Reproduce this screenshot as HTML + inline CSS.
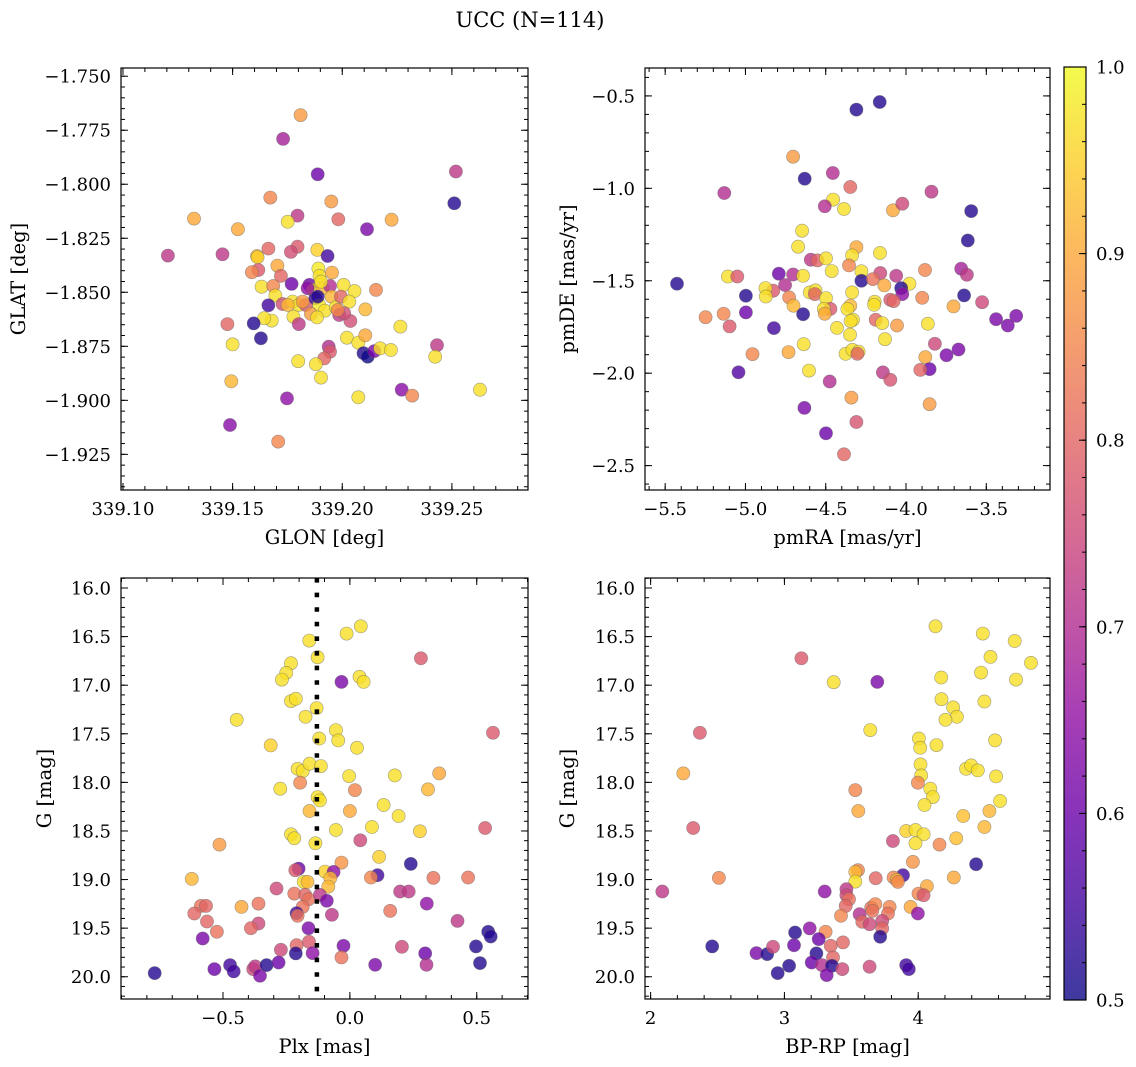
<!DOCTYPE html>
<html><head><meta charset="utf-8"><title>UCC (N=114)</title>
<style>
html,body{margin:0;padding:0;background:#fff;}
svg{display:block;font-family:"DejaVu Serif","Liberation Serif",serif;}
</style></head>
<body>
<svg id="fig" width="1136" height="1067" viewBox="0 0 1136 1067" xmlns="http://www.w3.org/2000/svg">
<defs>
<linearGradient id="plasma" x1="0" y1="1" x2="0" y2="0">
<stop offset="0" stop-color="#0d0887"/><stop offset="0.1" stop-color="#41049d"/><stop offset="0.2" stop-color="#6a00a8"/><stop offset="0.3" stop-color="#8f0da4"/><stop offset="0.4" stop-color="#b12a90"/><stop offset="0.5" stop-color="#cc4778"/><stop offset="0.6" stop-color="#e16462"/><stop offset="0.7" stop-color="#f2844b"/><stop offset="0.8" stop-color="#fca636"/><stop offset="0.9" stop-color="#fcce25"/><stop offset="1" stop-color="#f0f921"/>
</linearGradient>
</defs>
<text x="530" y="27" font-size="21" text-anchor="middle">UCC (N=114)</text>
</svg>
<script>
// ---- Panel 1: GLON / GLAT ----
const lon1 = [339.1888,339.2518,339.2511,339.1672,339.1950,339.1324,339.1796,339.1751,339.1982,339.2225,339.2113,339.1524,339.1205,339.1454,339.1663,339.1796,339.1766,339.1886,339.1933,339.1611,339.1614,339.1617,339.1588,339.1704,339.1720,339.1891,339.1896,339.1953,339.1769,339.1632,339.1685,339.1850,339.1865,339.1910,339.1944,339.2006,339.2056,339.2154,339.1695,339.1663,339.1728,339.1774,339.1801,339.1834,339.1877,339.1895,339.1921,339.1951,339.1971,339.1994,339.2032,339.2105,339.1986,339.2037,339.2009,339.1857,339.1885,339.1777,339.1802,339.1678,339.1644,339.1596,339.1629,339.1476,339.1500,339.2021,339.2073,339.2105,339.2265,339.1938,339.1944,339.1918,339.2097,339.2116,339.2146,339.2173,339.2222,339.2432,339.2424,339.1799,339.1880,339.1903,339.1494,339.1748,339.2073,339.2271,339.2319,339.2628,339.1488,339.1708,339.181,339.173,339.1888,339.1842,339.1751,339.1903,339.1979,339.1819];
const lat1 = [-1.7954,-1.7941,-1.8088,-1.8062,-1.8080,-1.8159,-1.8145,-1.8174,-1.8162,-1.8164,-1.8208,-1.8208,-1.8330,-1.8324,-1.8298,-1.8289,-1.8313,-1.8304,-1.8332,-1.8332,-1.8338,-1.8397,-1.8407,-1.8377,-1.8424,-1.8390,-1.8424,-1.8409,-1.8461,-1.8474,-1.8471,-1.8466,-1.8489,-1.8481,-1.8471,-1.8466,-1.8494,-1.8489,-1.8515,-1.8560,-1.8554,-1.8543,-1.8559,-1.8559,-1.8528,-1.8559,-1.8585,-1.8520,-1.8569,-1.8520,-1.8543,-1.8579,-1.8605,-1.8633,-1.8597,-1.8600,-1.8616,-1.8613,-1.8647,-1.8631,-1.8620,-1.8644,-1.8713,-1.8647,-1.8741,-1.8710,-1.8733,-1.8699,-1.8659,-1.8752,-1.8775,-1.8806,-1.8782,-1.8798,-1.8772,-1.8759,-1.8767,-1.8745,-1.8798,-1.8819,-1.8833,-1.8895,-1.8912,-1.8991,-1.8986,-1.8951,-1.8978,-1.8951,-1.9114,-1.9191,-1.768,-1.779,-1.8520,-1.8481,-1.8559,-1.8451,-1.8582,-1.8543];
const prob1 = [0.6,0.72,0.52,0.85,0.88,0.9,0.72,0.97,0.8,0.9,0.62,0.9,0.72,0.72,0.8,0.78,0.76,0.95,0.55,0.92,0.95,0.78,0.85,0.9,0.8,0.98,0.97,0.9,0.6,0.97,0.85,0.6,0.97,0.92,0.7,0.97,0.97,0.85,0.97,0.55,0.76,0.97,0.97,0.78,0.55,0.98,0.97,0.92,0.97,0.8,0.97,0.92,0.72,0.76,0.76,0.88,0.97,0.97,0.72,0.97,0.97,0.52,0.52,0.8,0.97,0.97,0.97,0.9,0.97,0.7,0.78,0.8,0.52,0.5,0.62,0.97,0.97,0.72,0.97,0.97,0.97,0.97,0.92,0.65,0.97,0.64,0.85,0.97,0.64,0.85,0.88,0.68,0.52,0.65,0.92,0.97,0.85,0.88];
const lonTicks = [339.10,339.15,339.20,339.25];
const latTicks = [-1.750,-1.775,-1.800,-1.825,-1.850,-1.875,-1.900,-1.925];

// ---- Panel 2: pmRA / pmDE ----
const pmra2 = [-4.309,-4.164,-4.703,-4.631,-4.456,-5.132,-4.347,-4.454,-4.506,-4.386,-4.081,-4.023,-3.841,-3.594,-3.615,-4.647,-4.672,-4.309,-4.336,-4.162,-4.593,-4.552,-4.498,-4.463,-4.355,-4.278,-4.278,-4.160,-4.206,-4.135,-4.061,-3.882,-3.656,-3.621,-3.978,-4.030,-4.023,-4.098,-4.077,-3.899,-3.638,-3.526,-3.704,-3.439,-3.314,-3.366,-5.426,-5.109,-5.051,-4.997,-4.997,-5.248,-5.136,-5.099,-4.792,-4.703,-4.753,-4.827,-4.875,-4.873,-4.641,-4.728,-4.701,-4.599,-4.564,-4.568,-4.498,-4.471,-4.512,-4.506,-4.641,-4.823,-4.336,-4.347,-4.365,-4.330,-4.345,-4.430,-4.349,-4.195,-4.199,-4.189,-4.148,-4.056,-3.864,-4.131,-3.820,-3.748,-3.673,-3.880,-3.853,-3.911,-4.637,-4.732,-4.956,-5.043,-4.376,-4.334,-4.295,-4.303,-4.604,-4.144,-4.098,-4.475,-4.340,-3.853,-4.633,-4.309,-4.498,-4.386];
const pmde2 = [-0.574,-0.533,-0.829,-0.948,-0.917,-1.025,-0.993,-1.061,-1.097,-1.112,-1.119,-1.083,-1.018,-1.123,-1.282,-1.229,-1.316,-1.318,-1.363,-1.350,-1.386,-1.390,-1.379,-1.448,-1.417,-1.449,-1.500,-1.458,-1.491,-1.525,-1.473,-1.442,-1.435,-1.468,-1.516,-1.540,-1.572,-1.603,-1.610,-1.592,-1.579,-1.616,-1.639,-1.708,-1.690,-1.742,-1.516,-1.477,-1.477,-1.581,-1.671,-1.697,-1.679,-1.747,-1.462,-1.466,-1.523,-1.554,-1.540,-1.585,-1.473,-1.590,-1.635,-1.563,-1.552,-1.572,-1.594,-1.652,-1.652,-1.679,-1.681,-1.756,-1.563,-1.635,-1.653,-1.711,-1.718,-1.755,-1.792,-1.614,-1.630,-1.711,-1.729,-1.742,-1.733,-1.816,-1.841,-1.903,-1.872,-1.913,-1.978,-1.982,-1.843,-1.886,-1.897,-1.995,-1.895,-1.874,-1.884,-1.895,-1.986,-1.996,-2.036,-2.045,-2.132,-2.168,-2.188,-2.264,-2.325,-2.439];
const prob2 = [0.52,0.52,0.88,0.52,0.7,0.7,0.8,0.97,0.7,0.97,0.9,0.75,0.72,0.52,0.52,0.97,0.97,0.9,0.97,0.97,0.72,0.8,0.97,0.97,0.85,0.97,0.52,0.75,0.82,0.9,0.72,0.85,0.68,0.72,0.97,0.52,0.65,0.78,0.8,0.85,0.52,0.75,0.9,0.62,0.62,0.62,0.52,0.97,0.78,0.52,0.6,0.85,0.85,0.78,0.6,0.7,0.7,0.78,0.97,0.97,0.97,0.85,0.92,0.97,0.97,0.8,0.97,0.78,0.97,0.9,0.52,0.55,0.97,0.92,0.97,0.97,0.97,0.97,0.97,0.97,0.97,0.8,0.97,0.88,0.97,0.97,0.75,0.62,0.62,0.9,0.6,0.8,0.97,0.9,0.85,0.57,0.97,0.97,0.97,0.8,0.97,0.72,0.77,0.7,0.88,0.88,0.62,0.77,0.6,0.8];
const pmraTicks = [-5.5,-5.0,-4.5,-4.0,-3.5];
const pmdeTicks = [-0.5,-1.0,-1.5,-2.0,-2.5];

// ---- Panel 3: Plx / G ----
const plx3 = [0.043,-0.013,-0.160,-0.127,-0.232,-0.251,-0.268,0.280,-0.033,0.038,0.054,-0.232,-0.213,-0.446,-0.175,-0.131,-0.055,-0.046,-0.121,0.028,0.564,-0.312,-0.206,-0.186,-0.159,-0.114,-0.196,-0.003,0.177,0.352,-0.274,0.020,0.308,-0.127,-0.118,-0.159,0.000,0.133,0.192,-0.055,0.087,0.276,0.533,-0.232,-0.219,-0.136,0.041,-0.514,0.115,-0.033,0.240,-0.202,-0.215,-0.098,-0.064,-0.077,-0.085,-0.182,-0.167,0.109,0.083,0.329,0.466,-0.623,-0.289,-0.219,-0.176,-0.163,-0.118,-0.091,0.198,0.232,0.303,0.159,0.424,-0.587,-0.567,-0.613,-0.563,-0.524,-0.427,-0.360,-0.360,-0.390,-0.580,-0.186,-0.210,-0.206,-0.071,-0.163,-0.161,-0.210,-0.213,-0.272,-0.147,-0.025,-0.033,0.100,0.205,0.297,0.302,0.497,0.513,0.545,0.555,-0.769,-0.534,-0.472,-0.458,-0.381,-0.373,-0.354,-0.328,-0.281];
const gmag3 = [16.394,16.469,16.541,16.712,16.774,16.873,16.942,16.723,16.966,16.914,16.966,17.164,17.140,17.356,17.325,17.236,17.462,17.568,17.548,17.644,17.490,17.620,17.860,17.884,17.808,17.832,18.003,17.935,17.928,17.908,18.065,18.079,18.072,18.151,18.185,18.295,18.295,18.233,18.346,18.490,18.459,18.503,18.469,18.534,18.575,18.627,18.596,18.640,18.767,18.825,18.839,18.887,18.904,18.918,18.921,18.986,19.072,19.024,19.024,18.955,18.979,18.983,18.979,18.993,19.092,19.144,19.158,19.202,19.158,19.219,19.123,19.123,19.247,19.322,19.425,19.271,19.271,19.349,19.432,19.538,19.281,19.247,19.452,19.500,19.606,19.281,19.346,19.373,19.363,19.500,19.640,19.675,19.760,19.723,19.757,19.682,19.801,19.877,19.692,19.760,19.877,19.688,19.860,19.538,19.586,19.962,19.921,19.880,19.945,19.921,19.894,19.990,19.880,19.853];
const prob3 = [0.97,0.97,0.97,0.97,0.97,0.97,0.97,0.78,0.62,0.97,0.97,0.97,0.97,0.97,0.97,0.97,0.97,0.97,0.97,0.97,0.78,0.95,0.97,0.97,0.97,0.97,0.85,0.97,0.97,0.9,0.97,0.85,0.92,0.97,0.97,0.92,0.9,0.97,0.97,0.97,0.97,0.95,0.78,0.97,0.97,0.97,0.75,0.88,0.95,0.87,0.52,0.6,0.78,0.95,0.65,0.92,0.92,0.97,0.92,0.55,0.85,0.82,0.82,0.92,0.75,0.82,0.8,0.82,0.72,0.62,0.72,0.72,0.65,0.82,0.72,0.82,0.8,0.8,0.8,0.82,0.9,0.82,0.75,0.8,0.62,0.82,0.55,0.82,0.72,0.62,0.78,0.8,0.52,0.75,0.65,0.62,0.82,0.62,0.75,0.6,0.7,0.52,0.52,0.52,0.52,0.52,0.6,0.55,0.55,0.75,0.72,0.62,0.52,0.6];
const plxTicks = [-0.5,0.0,0.5];
const plxMedian = [-0.13];

// ---- Panel 4: BP-RP / G ----
const bprp4 = [4.129,4.483,4.721,4.540,4.843,4.470,4.731,4.172,3.127,3.368,3.694,4.174,4.261,4.289,4.204,4.495,2.368,3.642,4.005,4.015,4.137,4.575,4.017,4.022,4.358,4.396,4.445,4.582,2.244,3.998,4.090,4.109,4.047,3.530,3.552,4.612,4.336,4.532,4.495,2.318,3.910,3.980,4.040,3.980,4.284,4.159,3.811,3.960,4.433,3.550,3.530,3.530,3.682,3.886,3.816,3.841,3.848,4.266,4.065,2.510,2.087,3.301,3.463,3.463,3.483,3.458,4.002,4.040,3.943,3.998,3.423,3.562,3.582,3.637,3.649,3.679,3.657,3.786,3.774,3.731,3.731,3.716,3.308,3.189,3.256,3.080,3.072,3.346,3.438,3.363,3.239,2.460,2.791,2.871,2.915,3.035,2.950,3.204,3.281,3.356,3.316,3.433,3.637,3.910,3.930];
const gmag4 = [16.394,16.469,16.545,16.709,16.771,16.870,16.942,16.921,16.723,16.969,16.966,17.144,17.229,17.325,17.356,17.168,17.490,17.462,17.548,17.644,17.616,17.568,17.815,17.928,17.860,17.825,17.877,17.938,17.908,18.003,18.065,18.151,18.233,18.079,18.295,18.192,18.346,18.295,18.459,18.469,18.500,18.490,18.534,18.627,18.575,18.640,18.603,18.818,18.842,18.904,18.921,19.021,18.986,18.955,18.979,19.003,19.024,18.979,19.068,18.983,19.123,19.123,19.099,19.161,19.202,19.271,19.144,19.161,19.281,19.349,19.373,19.356,19.435,19.459,19.288,19.253,19.322,19.281,19.349,19.425,19.503,19.589,19.538,19.503,19.613,19.545,19.675,19.682,19.647,19.801,19.760,19.688,19.757,19.767,19.692,19.887,19.962,19.853,19.880,19.887,19.983,19.921,19.897,19.880,19.921];
const prob4 = [0.97,0.97,0.97,0.97,0.97,0.97,0.97,0.97,0.78,0.97,0.62,0.97,0.97,0.97,0.97,0.97,0.78,0.97,0.97,0.97,0.97,0.97,0.97,0.97,0.97,0.97,0.97,0.97,0.9,0.85,0.97,0.97,0.97,0.85,0.9,0.97,0.93,0.92,0.92,0.78,0.95,0.97,0.97,0.97,0.93,0.85,0.75,0.87,0.52,0.85,0.92,0.97,0.8,0.55,0.85,0.92,0.85,0.9,0.9,0.85,0.72,0.65,0.72,0.75,0.82,0.8,0.85,0.78,0.9,0.65,0.85,0.7,0.8,0.75,0.82,0.85,0.82,0.85,0.82,0.75,0.8,0.52,0.85,0.65,0.6,0.52,0.6,0.8,0.8,0.8,0.52,0.52,0.62,0.52,0.75,0.52,0.52,0.6,0.7,0.52,0.62,0.75,0.75,0.55,0.55];
const bprpTicks = [2,3,4];
const gTicks = [16.0,16.5,17.0,17.5,18.0,18.5,19.0,19.5,20.0];
const cbarTicks = [0.5,0.6,0.7,0.8,0.9,1.0];

const NS = "http://www.w3.org/2000/svg";
const svg = document.getElementById("fig");
const PL = [[0,13,8,135],[0.1,65,4,157],[0.2,106,0,168],[0.3,143,13,164],[0.4,177,42,144],[0.5,204,71,120],[0.6,225,100,98],[0.7,242,132,75],[0.8,252,166,54],[0.9,252,206,37],[1.0,240,249,33]];
function plasma(v){
  let t = Math.max(0, Math.min(1, (v - 0.5) / 0.5));
  for (let i = 0; i < PL.length - 1; i++) {
    if (t <= PL[i+1][0]) {
      const f = (t - PL[i][0]) / (PL[i+1][0] - PL[i][0]);
      const c = [1,2,3].map(k => Math.round(PL[i][k] + f * (PL[i+1][k] - PL[i][k])));
      return "rgb(" + c.join(",") + ")";
    }
  }
  return "rgb(240,249,33)";
}
function mk(tag, attrs, parent){
  const e = document.createElementNS(NS, tag);
  for (const k in attrs) e.setAttribute(k, attrs[k]);
  (parent || svg).appendChild(e);
  return e;
}
function fmt(v, d){ return (v < 0 ? "\u2212" : "") + Math.abs(v).toFixed(d); }

function panel(o){
  const g = mk("g", {});
  
  
  const sx = v => o.L + (v - o.x0) / (o.x1 - o.x0) * (o.R - o.L);
  const sy = v => o.B - (v - o.y0) / (o.y1 - o.y0) * (o.B - o.T);
  const clip = mk("clipPath", {id: "clip-" + o.name}, g);
  mk("rect", {x: o.L, y: o.T, width: o.R - o.L, height: o.B - o.T}, clip);
  const pts = mk("g", {"clip-path": "url(#clip-" + o.name + ")"}, g);
  
  
  const n = Math.min(o.xs.length, o.ys.length, o.cs.length);
  for (let i = 0; i < n; i++) {
    const c = mk("circle", {cx: sx(o.xs[i]).toFixed(1), cy: sy(o.ys[i]).toFixed(1), r: 6.6, fill: plasma(o.cs[i]), "fill-opacity": 0.8, stroke: "#666", "stroke-opacity": 0.6, "stroke-width": 0.6}, pts);
    
    
  }
  if (o.vline) {
    for (const v of o.vline) {
      const l = mk("line", {x1: sx(v), x2: sx(v), y1: o.T, y2: o.B, stroke: "#000", "stroke-width": 4.5, "stroke-dasharray": "4.6 10"}, g);
      
      
    }
  }
  const fr = mk("rect", {x: o.L, y: o.T, width: o.R - o.L, height: o.B - o.T, fill: "none", stroke: "#000", "stroke-width": 1.2}, g);
  
  
  const tk = mk("g", {stroke: "#000", "stroke-width": 1}, g);
  
  
  const lo = Math.min(o.x0, o.x1), hi = Math.max(o.x0, o.x1);
  for (let v = Math.ceil(lo / o.xm - 1e-6) * o.xm; v <= hi + 1e-9; v += o.xm) {
    const x = sx(v);
    mk("line", {x1: x, x2: x, y1: o.B, y2: o.B - 4}, tk);
    mk("line", {x1: x, x2: x, y1: o.T, y2: o.T + 4}, tk);
  }
  const ylo = Math.min(o.y0, o.y1), yhi = Math.max(o.y0, o.y1);
  for (let v = Math.ceil(ylo / o.ym - 1e-6) * o.ym; v <= yhi + 1e-9; v += o.ym) {
    const y = sy(v);
    mk("line", {x1: o.L, x2: o.L + 4, y1: y, y2: y}, tk);
    mk("line", {x1: o.R, x2: o.R - 4, y1: y, y2: y}, tk);
  }
  const lab = mk("g", {"font-size": 18, fill: "#000"}, g);
  for (const v of o.xt) {
    const x = sx(v);
    mk("line", {x1: x, x2: x, y1: o.B, y2: o.B - 7}, tk);
    mk("line", {x1: x, x2: x, y1: o.T, y2: o.T + 7}, tk);
    const t = mk("text", {x: x, y: o.B + 25, "text-anchor": "middle"}, lab);
    t.textContent = fmt(v, o.xd);
    
    
  }
  for (const v of o.yt) {
    const y = sy(v);
    mk("line", {x1: o.L, x2: o.L + 7, y1: y, y2: y}, tk);
    mk("line", {x1: o.R, x2: o.R - 7, y1: y, y2: y}, tk);
    const t = mk("text", {x: o.L - 10, y: y + 6.5, "text-anchor": "end"}, lab);
    t.textContent = fmt(v, o.yd);
    
    
  }
  const xl = mk("text", {x: (o.L + o.R) / 2, y: o.B + 54, "text-anchor": "middle", "font-size": 19.5}, g);
  xl.textContent = o.xlabel;
  
  
  const yc = (o.T + o.B) / 2;
  const yl = mk("text", {x: o.ylx, y: yc, "text-anchor": "middle", "font-size": 19.5, transform: "rotate(-90 " + o.ylx + " " + yc + ")"}, g);
  yl.textContent = o.ylabel;
  
  
}

panel({name: "glon-glat-panel", L: 121, R: 528, T: 68, B: 490, x0: 339.0991, x1: 339.2847, y0: -1.9415, y1: -1.7462,
  xs: lon1, ys: lat1, cs: prob1, xt: lonTicks, yt: latTicks, xd: 2, yd: 3, xm: 0.01, ym: 0.005,
  xlabel: "GLON [deg]", ylabel: "GLAT [deg]", ylx: 25});
panel({name: "pm-panel", L: 645, R: 1050, T: 68, B: 490, x0: -5.6256, x1: -3.1032, y0: -2.632, y1: -0.349,
  xs: pmra2, ys: pmde2, cs: prob2, xt: pmraTicks, yt: pmdeTicks, xd: 1, yd: 1, xm: 0.1, ym: 0.1,
  xlabel: "pmRA [mas/yr]", ylabel: "pmDE [mas/yr]", ylx: 574});
panel({name: "plx-g-panel", L: 121, R: 528, T: 578, B: 999, x0: -0.902, x1: 0.702, y0: 20.229, y1: 15.897,
  xs: plx3, ys: gmag3, cs: prob3, xt: plxTicks, yt: gTicks, xd: 1, yd: 1, xm: 0.1, ym: 0.1,
  xlabel: "Plx [mas]", ylabel: "G [mag]", ylx: 51, vline: plxMedian});
panel({name: "cmd-panel", L: 645, R: 1050, T: 578, B: 999, x0: 1.958, x1: 4.985, y0: 20.229, y1: 15.897,
  xs: bprp4, ys: gmag4, cs: prob4, xt: bprpTicks, yt: gTicks, xd: 0, yd: 1, xm: 0.2, ym: 0.1,
  xlabel: "BP-RP [mag]", ylabel: "G [mag]", ylx: 574});

// ---- Colorbar ----
(function(){
  const L = 1064, R = 1086, T = 67, B = 1000;
  const g = mk("g", {});
  
  
  mk("rect", {x: L, y: T, width: R - L, height: B - T, fill: "url(#plasma)", "fill-opacity": 0.8}, g);
  mk("rect", {x: L, y: T, width: R - L, height: B - T, fill: "none", stroke: "#000", "stroke-width": 1.2}, g);
  const sy = v => B - (v - 0.5) / 0.5 * (B - T);
  for (let v = 0.5; v <= 1.0001; v += 0.02) {
    mk("line", {x1: R, x2: R - 4, y1: sy(v), y2: sy(v), stroke: "#000", "stroke-width": 1}, g);
  }
  for (const v of cbarTicks) {
    mk("line", {x1: R, x2: R - 7, y1: sy(v), y2: sy(v), stroke: "#000", "stroke-width": 1}, g);
    const t = mk("text", {x: R + 10, y: sy(v) + 6.5, "font-size": 18}, g);
    t.textContent = v.toFixed(1);
    
    
  }
})();
</script>
</body></html>
